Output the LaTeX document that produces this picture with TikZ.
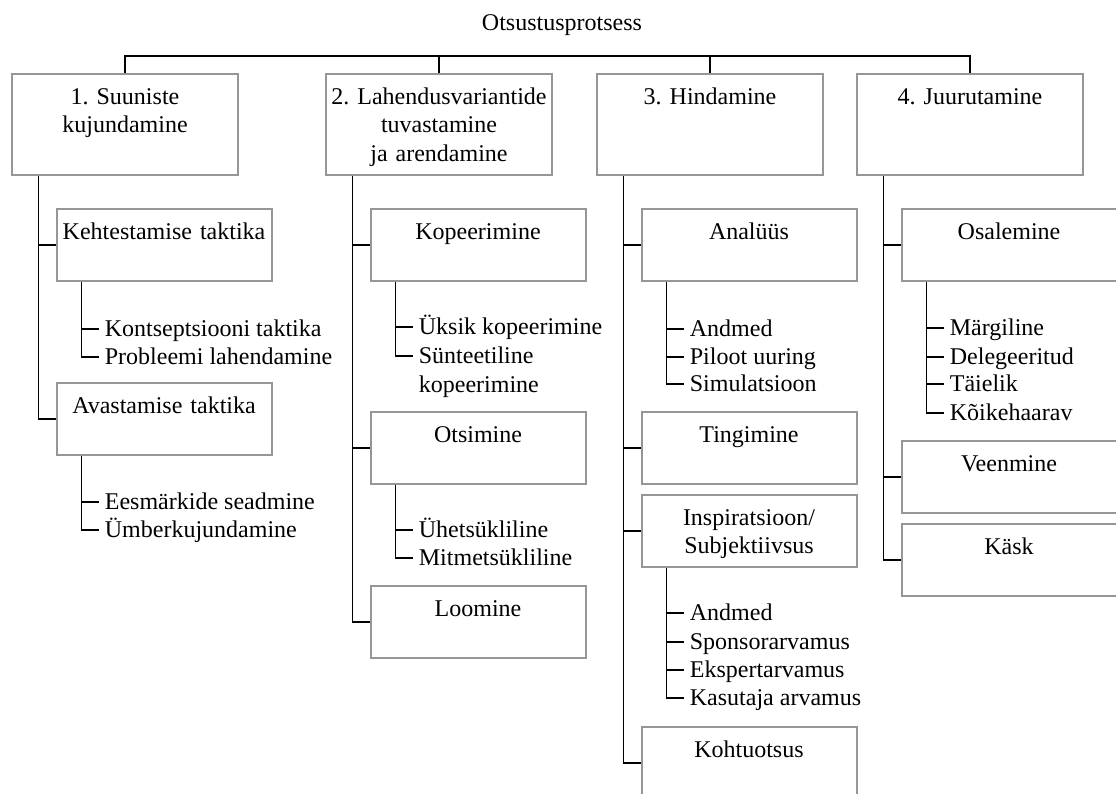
\documentclass[tikz,border=0pt]{standalone}
\usepackage{fontspec}
\setmainfont{Liberation Serif}
\definecolor{boxgray}{RGB}{150,150,150}
\begin{document}
\begin{tikzpicture}[x=0.5pt,y=-0.5pt,
  font=\fontsize{12pt}{14.4pt}\selectfont,
  conn/.style={draw=black, line width=0.75pt},
  topbox/.style={draw=boxgray, line width=1pt, anchor=north west, inner xsep=0pt, inner ysep=0pt,
    text width=113pt, align=center, text height=15pt, text depth=35.5pt},
  subbox/.style={topbox, text width=107.5pt, text depth=21pt},
  item/.style={anchor=west, inner xsep=3pt, inner ysep=0pt, text height=8pt, text depth=0.8pt},
]
\useasboundingbox (0,0) rectangle (1116,794);
\clip (0,0) rectangle (1116,794);

% title
\node[anchor=base, inner sep=0pt] (title) at (562,30) {Otsustusprotsess};

% top boxes
\node[topbox] (b1) at (11,73) {1.\ Suuniste\\kujundamine};
\node[topbox] (b2) at (325,73) {2.\ Lahendusvariantide\\tuvastamine\\ja arendamine};
\node[topbox] (b3) at (596,73) {3.\ Hindamine};
\node[topbox] (b4) at (856,73) {4.\ Juurutamine};

\coordinate (bar) at (0,56);
\draw[conn] (b1.north) |- (b4.north |- bar) -- (b4.north);
\draw[conn] (b2.north) -- (b2.north |- bar);
\draw[conn] (b3.north) -- (b3.north |- bar);

\coordinate (t1) at ([xshift=13.75pt]b1.south west);
\coordinate (t2) at ([xshift=13.75pt]b2.south west);
\coordinate (t3) at ([xshift=13.75pt]b3.south west);
\coordinate (t4) at ([xshift=13.75pt]b4.south west);

% ---------- column 1
\node[subbox] (ke) at (55.5,208) {Kehtestamise taktika};
\node[subbox] (av) at (55.5,382) {Avastamise taktika};
\draw[conn] (t1) |- (av.west);
\draw[conn] (ke.west -| t1) -- (ke.west);

\coordinate (s1) at ([xshift=13pt]ke.south west);
\node[item] (k1) at (98.5,329) {Kontseptsiooni taktika};
\node[item] (k2) at (98.5,357) {Probleemi lahendamine};
\draw[conn] (s1) |- (k2.west);
\draw[conn] (k1.west -| s1) -- (k1.west);

\coordinate (s2) at ([xshift=13pt]av.south west);
\node[item] (e1) at (98.5,502) {Eesmärkide seadmine};
\node[item] (e2) at (98.5,530) {Ümberkujundamine};
\draw[conn] (s2) |- (e2.west);
\draw[conn] (e1.west -| s2) -- (e1.west);

% ---------- column 2
\node[subbox] (kp) at (369.5,208) {Kopeerimine};
\node[subbox] (ot) at (369.5,411) {Otsimine};
\node[subbox] (lo) at (369.5,585) {Loomine};
\draw[conn] (t2) |- (lo.west);
\draw[conn] (kp.west -| t2) -- (kp.west);
\draw[conn] (ot.west -| t2) -- (ot.west);

\coordinate (s3) at ([xshift=13pt]kp.south west);
\node[item] (c1) at (412.5,327) {Üksik kopeerimine};
\node[item, text width=100pt, align=left] (c2) at (412.5,356) {Sünteetiline\\kopeerimine};
\draw[conn] (s3) |- (c2.west);
\draw[conn] (c1.west -| s3) -- (c1.west);

\coordinate (s4) at ([xshift=13pt]ot.south west);
\node[item] (o1) at (412.5,530) {Ühetsükliline};
\node[item] (o2) at (412.5,558) {Mitmetsükliline};
\draw[conn] (s4) |- (o2.west);
\draw[conn] (o1.west -| s4) -- (o1.west);

% ---------- column 3
\node[subbox] (an) at (640.5,208) {Analüüs};
\node[subbox] (ti) at (640.5,411) {Tingimine};
\node[subbox] (ins) at (640.5,494) {Inspiratsioon/\\Subjektiivsus};
\node[subbox] (ko) at (640.5,726) {Kohtuotsus};
\draw[conn] (t3) |- (ko.west);
\draw[conn] (an.west -| t3) -- (an.west);
\draw[conn] (ti.west -| t3) -- (ti.west);
\draw[conn] (ins.west -| t3) -- (ins.west);

\coordinate (s5) at ([xshift=13pt]an.south west);
\node[item] (n1) at (683.5,329) {Andmed};
\node[item] (n2) at (683.5,357) {Piloot uuring};
\node[item] (n3) at (683.5,384) {Simulatsioon};
\draw[conn] (s5) |- (n3.west);
\draw[conn] (n1.west -| s5) -- (n1.west);
\draw[conn] (n2.west -| s5) -- (n2.west);

\coordinate (s6) at ([xshift=13pt]ins.south west);
\node[item] (i1) at (683.5,613) {Andmed};
\node[item] (i2) at (683.5,642) {Sponsorarvamus};
\node[item] (i3) at (683.5,670) {Ekspertarvamus};
\node[item] (i4) at (683.5,698) {Kasutaja arvamus};
\draw[conn] (s6) |- (i4.west);
\draw[conn] (i1.west -| s6) -- (i1.west);
\draw[conn] (i2.west -| s6) -- (i2.west);
\draw[conn] (i3.west -| s6) -- (i3.west);

% ---------- column 4
\node[subbox] (os) at (900.5,208) {Osalemine};
\node[subbox] (ve) at (900.5,440) {Veenmine};
\node[subbox] (ka) at (900.5,523) {Käsk};
\draw[conn] (t4) |- (ka.west);
\draw[conn] (os.west -| t4) -- (os.west);
\draw[conn] (ve.west -| t4) -- (ve.west);

\coordinate (s7) at ([xshift=13pt]os.south west);
\node[item] (m1) at (943.5,328) {Märgiline};
\node[item] (m2) at (943.5,357) {Delegeeritud};
\node[item] (m3) at (943.5,384) {Täielik};
\node[item] (m4) at (943.5,413) {Kõikehaarav};
\draw[conn] (s7) |- (m4.west);
\draw[conn] (m1.west -| s7) -- (m1.west);
\draw[conn] (m2.west -| s7) -- (m2.west);
\draw[conn] (m3.west -| s7) -- (m3.west);
\end{tikzpicture}
\end{document}
